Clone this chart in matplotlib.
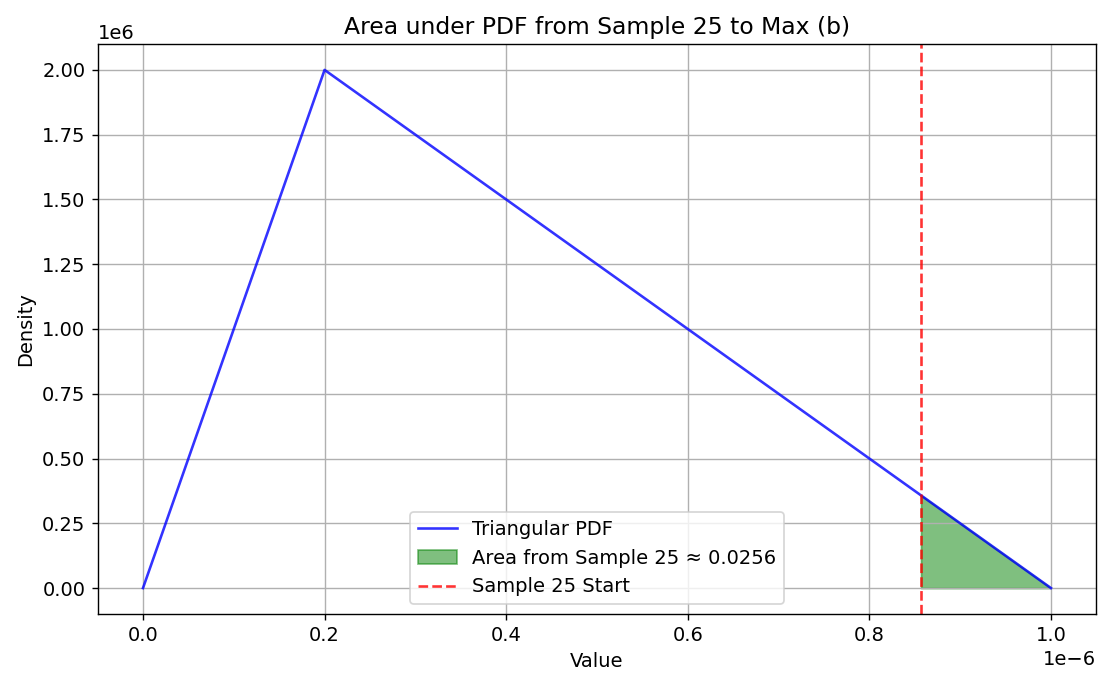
import numpy as np
import matplotlib
matplotlib.use("Agg")
import matplotlib.pyplot as plt

plt.rcParams["font.size"] = 11.27

# triangular pdf corners (a, c, b)
pdf_x = [0.0, 0.2e-6, 1.0e-6]
pdf_y = [0.0, 2.0e6, 0.0]

# shaded region from sample 25 to max
sample_start = 0.8569e-6
area_x = [sample_start, 1.0e-6]
area_y = [0.3578e6, 0.0]
area_value = 0.0256

fig, ax = plt.subplots(figsize=(8.792, 5.4), dpi=125)
fig.subplots_adjust(left=0.0888, right=0.9976, top=0.9348, bottom=0.0904)

ax.plot(pdf_x, pdf_y, color="blue", alpha=0.8, label="Triangular PDF")
ax.fill_between(area_x, area_y, color="green", alpha=0.5,
                label=f"Area from Sample 25 ≈ {area_value:.4f}")
ax.axvline(sample_start, color="red", linestyle="--", alpha=0.8,
           label="Sample 25 Start")

ax.set_title("Area under PDF from Sample 25 to Max (b)")
ax.set_xlabel("Value")
ax.set_ylabel("Density")
ax.legend(loc="lower center")
ax.grid(True)

fig.savefig("out.png")
